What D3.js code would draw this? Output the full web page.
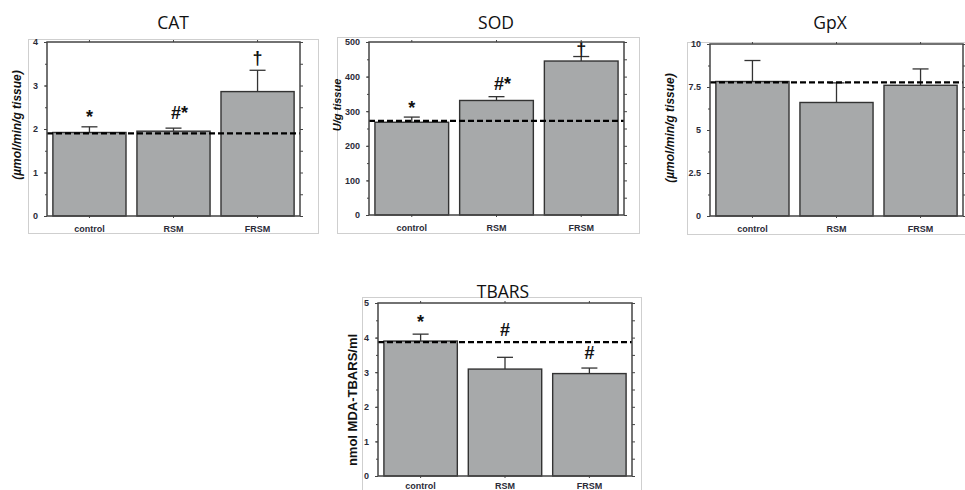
<!DOCTYPE html>
<html>
<head>
<meta charset="utf-8">
<script src="https://cdn.jsdelivr.net/npm/d3@7"></script>
<style>
  body { margin: 0; background: #fff; }
  svg { display: block; }
  .tick text { font-family: "Liberation Sans", Arial, sans-serif; font-weight: bold; font-size: 9px; fill: #2b2b38; }
</style>
</head>
<body>
<svg id="chart" width="965" height="490"></svg>
<script>
// Groups shared by every panel
const categories = ["control", "RSM", "FRSM"];

// CAT
const catMeans = [1.92, 1.95, 2.86];
const catErrors = [0.13, 0.07, 0.49];
const catControlLine = 1.9;
const catMarks = ["*", "#*", "†"];
const catMarkLevels = [2.14, 2.23, 3.49];
const catTicks = [0, 1, 2, 3, 4];

// SOD
const sodMeans = [268, 331, 445];
const sodErrors = [15, 11, 13];
const sodControlLine = 272;
const sodMarks = ["*", "#*", "†"];
const sodMarkLevels = [292, 361, 462];
const sodTicks = [0, 100, 200, 300, 400, 500];

// GpX
const gpxMeans = [7.82, 6.6, 7.6];
const gpxErrors = [1.22, 1.14, 0.95];
const gpxControlLine = 7.77;
const gpxTicks = [0, 2.5, 5, 7.5, 10];

// TBARS
const tbarsMeans = [3.9, 3.09, 2.96];
const tbarsErrors = [0.2, 0.34, 0.16];
const tbarsControlLine = 3.87;
const tbarsMarks = ["*", "#", "#"];
const tbarsMarkLevels = [4.28, 4.05, 3.38];
const tbarsTicks = [0, 1, 2, 3, 4, 5];

// Layout of each panel (box = light outer frame, plot = axis frame)
const panels = [
  { title: "CAT", yLabel: "(µmol/min/g tissue)", italic: true, labelSize: 12,
    means: catMeans, errors: catErrors, ref: catControlLine, marks: catMarks, markLevels: catMarkLevels,
    ticks: catTicks, minor: 0.5, xPad: 6,
    box: [28, 39, 290, 194], plot: [47, 42, 253, 174], titlePos: [173, 29], labelPos: [17, 125] },
  { title: "SOD", yLabel: "U/g tissue", italic: true, labelSize: 11,
    means: sodMeans, errors: sodErrors, ref: sodControlLine, marks: sodMarks, markLevels: sodMarkLevels,
    ticks: sodTicks, minor: 50, xPad: 6,
    box: [337, 37, 302, 196], plot: [369, 42, 255, 173], titlePos: [496, 29], labelPos: [337, 105] },
  { title: "GpX", yLabel: "(µmol/min/g tissue)", italic: true, labelSize: 12,
    means: gpxMeans, errors: gpxErrors, ref: gpxControlLine, marks: null, markLevels: null,
    ticks: gpxTicks, minor: 1.25, xPad: 6,
    box: [687, 42, 300, 192], plot: [710, 44, 253, 172], titlePos: [830, 29], labelPos: [670, 128] },
  { title: "TBARS", yLabel: "nmol MDA-TBARS/ml", italic: false, labelSize: 13,
    means: tbarsMeans, errors: tbarsErrors, ref: tbarsControlLine, marks: tbarsMarks, markLevels: tbarsMarkLevels,
    ticks: tbarsTicks, minor: 0.5, xPad: 3,
    box: [362, 297, 279, 220], plot: [378, 303, 254, 173], titlePos: [503, 298], labelPos: [352, 400] }
];

const svg = d3.select("#chart");

panels.forEach(p => {
  const [bx, by, bw, bh] = p.box;
  const [px, py, pw, ph] = p.plot;
  const maxVal = p.ticks[p.ticks.length - 1];

  // Light outer frame
  svg.append("rect")
    .attr("x", bx + 0.5).attr("y", by + 0.5)
    .attr("width", bw).attr("height", bh)
    .attr("fill", "none").attr("stroke", "#cfcfcf").attr("stroke-width", 1);

  // Title
  svg.append("text")
    .attr("x", p.titlePos[0]).attr("y", p.titlePos[1])
    .attr("text-anchor", "middle")
    .style("font-family", "'Open Sans', 'Noto Sans', sans-serif")
    .style("font-size", "17.5px")
    .style("fill", "#111")
    .text(p.title);

  const g = svg.append("g").attr("transform", `translate(${px},${py})`);

  const x = d3.scaleBand()
    .domain(categories)
    .range([0, pw])
    .paddingInner(0.13)
    .paddingOuter(0.07);

  const y = d3.scaleLinear()
    .domain([0, maxVal])
    .range([ph, 0]);

  const minorTicks = d3.range(0, maxVal + 1e-9, p.minor);

  // Bars
  g.selectAll("rect.bar")
    .data(categories)
    .join("rect")
    .attr("class", "bar")
    .attr("x", d => x(d))
    .attr("y", (d, i) => y(p.means[i]))
    .attr("width", x.bandwidth())
    .attr("height", (d, i) => ph - y(p.means[i]))
    .attr("fill", "#a7a9aa")
    .attr("stroke", "#333")
    .attr("stroke-width", 1.4);

  // Upper error bars
  const err = g.selectAll("g.err")
    .data(categories)
    .join("g")
    .attr("class", "err");
  err.append("line")
    .attr("x1", d => x(d) + x.bandwidth() / 2)
    .attr("x2", d => x(d) + x.bandwidth() / 2)
    .attr("y1", (d, i) => y(p.means[i]))
    .attr("y2", (d, i) => y(p.means[i] + p.errors[i]))
    .attr("stroke", "#333").attr("stroke-width", 1.3);
  err.append("line")
    .attr("x1", d => x(d) + x.bandwidth() / 2 - 8)
    .attr("x2", d => x(d) + x.bandwidth() / 2 + 8)
    .attr("y1", (d, i) => y(p.means[i] + p.errors[i]))
    .attr("y2", (d, i) => y(p.means[i] + p.errors[i]))
    .attr("stroke", "#333").attr("stroke-width", 1.3);

  // Dashed control level
  g.append("line")
    .attr("x1", 0).attr("x2", pw)
    .attr("y1", y(p.ref)).attr("y2", y(p.ref))
    .attr("stroke", "#000").attr("stroke-width", 2.4)
    .attr("stroke-dasharray", "6,3");

  // Significance marks
  if (p.marks) {
    g.selectAll("text.mark")
      .data(categories)
      .join("text")
      .attr("class", "mark")
      .attr("x", d => x(d) + x.bandwidth() / 2)
      .attr("y", (d, i) => y(p.markLevels[i]))
      .attr("dx", (d, i) => p.marks[i].length > 1 ? 6 : 0)
      .attr("text-anchor", "middle")
      .style("font-family", "'Liberation Sans', Arial, sans-serif")
      .style("font-size", "18px")
      .style("font-weight", "bold")
      .style("fill", "#111")
      .text((d, i) => p.marks[i]);
  }

  // Left axis: labelled major ticks + minor ticks
  const left = g.append("g")
    .call(d3.axisLeft(y).tickValues(p.ticks).tickSize(3).tickPadding(6)
      .tickFormat(d => d3.format("")(d)));
  left.select(".domain").remove();
  left.selectAll(".tick line").attr("stroke", "#444");

  const leftMinor = g.append("g")
    .call(d3.axisLeft(y).tickValues(minorTicks).tickSize(2).tickFormat(""));
  leftMinor.select(".domain").remove();
  leftMinor.selectAll(".tick line").attr("stroke", "#444");

  // Right axis ticks
  const right = g.append("g")
    .attr("transform", `translate(${pw},0)`)
    .call(d3.axisRight(y).tickValues(minorTicks).tickSize(3).tickFormat(""));
  right.select(".domain").remove();
  right.selectAll(".tick line").attr("stroke", "#444");

  // Top axis ticks at the groups
  const top = g.append("g")
    .call(d3.axisTop(x).tickSize(2).tickFormat(""));
  top.select(".domain").remove();
  top.selectAll(".tick line").attr("stroke", "#444");

  // Bottom axis with group labels
  const bottom = g.append("g")
    .attr("transform", `translate(0,${ph})`)
    .call(d3.axisBottom(x).tickSize(2).tickPadding(p.xPad));
  bottom.select(".domain").remove();
  bottom.selectAll(".tick line").attr("stroke", "#444");
  bottom.selectAll(".tick text").attr("dy", "0.9em");

  // Axis frame
  g.append("rect")
    .attr("x", 0).attr("y", 0)
    .attr("width", pw).attr("height", ph)
    .attr("fill", "none").attr("stroke", "#444").attr("stroke-width", 1.5);

  // Y axis title
  svg.append("text")
    .attr("transform", `translate(${p.labelPos[0]},${p.labelPos[1]}) rotate(-90)`)
    .attr("text-anchor", "middle")
    .attr("dy", "0.35em")
    .style("font-family", "'Liberation Sans', Arial, sans-serif")
    .style("font-weight", "bold")
    .style("font-style", p.italic ? "italic" : "normal")
    .style("font-size", p.labelSize + "px")
    .style("fill", "#111")
    .text(p.yLabel);
});
</script>
</body>
</html>
